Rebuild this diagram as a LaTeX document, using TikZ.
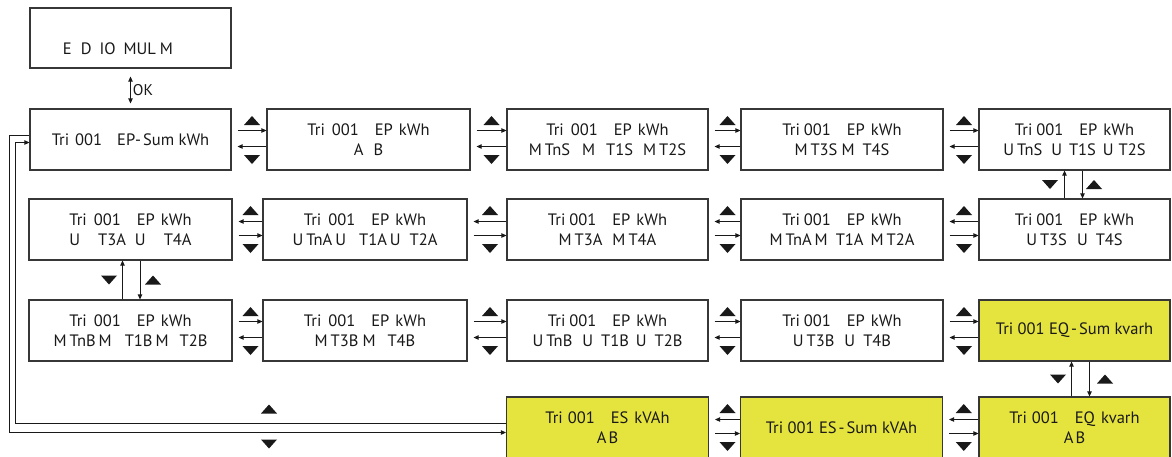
\documentclass[tikz,border=0pt]{standalone}
\usepackage{fontspec}
\setmainfont{PT Sans}
\usetikzlibrary{arrows.meta,calc}
\definecolor{lcdyellow}{RGB}{229,227,62}
\definecolor{edgegray}{RGB}{55,55,55}
\definecolor{ink}{RGB}{25,25,25}
\newcommand{\hsp}[1]{\hspace{#1pt}}
\newcommand{\triEP}{Tri\hsp{7}001\hsp{16}EP\hsp{6}kWh}
\newcommand{\hconnR}[2]{%
  \draw[arr] ([xshift=6pt,yshift=9pt]#1.east) -- ([yshift=9pt]#2.west);
  \draw[arr] ([yshift=-7pt]#2.west) -- ([xshift=6pt,yshift=-7pt]#1.east);
  \pic at ($(#1.east)!0.5!(#2.west)+(3,-19)$) {tup};
  \pic at ($(#1.east)!0.5!(#2.west)+(3,20)$) {tdown};}
\newcommand{\hconnL}[2]{%
  \draw[arr] ([yshift=8pt]#2.west) -- ([xshift=6pt,yshift=8pt]#1.east);
  \draw[arr] ([xshift=6pt,yshift=-6pt]#1.east) -- ([yshift=-6pt]#2.west);
  \pic at ($(#1.east)!0.5!(#2.west)+(3,-19)$) {tup};
  \pic at ($(#1.east)!0.5!(#2.west)+(3,19)$) {tdown};}
% top box, bottom box, up-arrow dx, down-arrow dx, down-triangle dx, up-triangle dx
\newcommand{\vconn}[6]{%
  \draw[arr] ([xshift=#3pt]#2.north) -- ([xshift=#3pt]#1.south);
  \draw[arr] ([xshift=#4pt]#1.south) -- ([xshift=#4pt]#2.north);
  \pic at ($(#1.south)!0.5!(#2.north)+(#5,0)$) {tdown};
  \pic at ($(#1.south)!0.5!(#2.north)+(#6,0)$) {tup};}
\begin{document}
\begin{tikzpicture}[x=1pt,y=-1pt,
  lcd/.style={draw=edgegray, line width=1.2pt, minimum height=61pt, inner sep=0pt,
    align=center, font=\fontsize{16.5}{20.5}\selectfont, text=ink},
  hot/.style={fill=lcdyellow},
  txt/.style={inner sep=0pt, font=\fontsize{16.5}{20}\selectfont, text=ink},
  arr/.style={-{Triangle[length=5pt,width=4.5pt]}, line width=0.9pt, draw=ink},
  tup/.pic={\fill[ink] (-8,4.5) -- (8,4.5) -- (0,-4.5) -- cycle;},
  tdown/.pic={\fill[ink] (-8,-4.5) -- (8,-4.5) -- (0,4.5) -- cycle;}]
\fill[white] (0,0) rectangle (1172,456);
\useasboundingbox (0,0) rectangle (1172,456);

% top box
\node[lcd, minimum width=201pt, minimum height=60pt] (b0) at (130.5,38) {};
\node[txt] (b0t) at (118,49) {E\hsp{9}D\hsp{8}IO\hsp{8}MUL\hsp{4}M};

% row 1
\node[lcd, minimum width=201pt] (b11) at (130.5,139.5) {Tri\hsp{6}001\hsp{15}EP-\hsp{2}Sum kWh};
\node[lcd, minimum width=203pt] (b12) at (368.5,139.5) {\triEP\\A\hsp{10}B};
\node[lcd, minimum width=201pt] (b13) at (607.5,139.5) {\triEP\\M\hsp{3}TnS\hsp{12}M\hsp{11}T1S\hsp{10}M\hsp{3}T2S};
\node[lcd, minimum width=202pt] (b14) at (842,139.5) {Tri\hsp{4}001\hsp{16}EP\hsp{6}kWh\\M\hsp{3}T3S\hsp{4}M\hsp{8}T4S};
\node[lcd, minimum width=191pt] (b15) at (1074.5,139.5) {Tri\hsp{4}001\hsp{16}EP\hsp{6}kWh\\U\hsp{3}TnS\hsp{9}U\hsp{7}T1S\hsp{7}U\hsp{5}T2S};

% row 2
\node[lcd, minimum width=203pt] (b21) at (130.5,229.5) {\triEP\\U\hsp{18}T3A\hsp{9}U\hsp{18}T4A};
\node[lcd, minimum width=204pt] (b22) at (365,229.5) {\triEP\\U\hsp{3}TnA\hsp{3}U\hsp{13}T1A\hsp{3}U\hsp{9}T2A};
\node[lcd, minimum width=201pt] (b23) at (607.5,229.5) {Tri\hsp{4}001\hsp{16}EP\hsp{6}kWh\\M\hsp{3}T3A\hsp{10}M\hsp{3}T4A};
\node[lcd, minimum width=202pt] (b24) at (842,229.5) {Tri\hsp{4}001\hsp{16}EP\hsp{6}kWh\\M\hsp{3}TnA\hsp{3}M\hsp{8}T1A\hsp{7}M\hsp{3}T2A};
\node[lcd, minimum width=191pt] (b25) at (1074.5,229.5) {Tri\hsp{4}001\hsp{16}EP\hsp{6}kWh\\U\hsp{3}T3S\hsp{10}U\hsp{8}T4S};

% row 3
\node[lcd, minimum width=203pt] (b31) at (130.5,330.5) {\triEP\\M\hsp{3}TnB\hsp{3}M\hsp{13}T1B\hsp{3}M\hsp{11}T2B};
\node[lcd, minimum width=204pt] (b32) at (365,330.5) {\triEP\\M\hsp{3}T3B\hsp{4}M\hsp{12}T4B};
\node[lcd, minimum width=201pt] (b33) at (607.5,330.5) {Tri\hsp{4}001\hsp{16}EP\hsp{6}kWh\\U\hsp{3}TnB\hsp{10}U\hsp{8}T1B\hsp{7}U\hsp{8}T2B};
\node[lcd, minimum width=202pt] (b34) at (842,330.5) {Tri\hsp{4}001\hsp{16}EP\hsp{6}kWh\\U\hsp{3}T3B\hsp{10}U\hsp{8}T4B};
\node[lcd, hot, minimum width=191pt] (b35) at (1074.5,330.5) {Tri 001 EQ\hsp{2}-\hsp{2}Sum kvarh};

% row 4
\node[lcd, hot, minimum width=202pt] (b43) at (607.5,427.5) {Tri\hsp{5}001\hsp{16}ES\hsp{6}kVAh\\A\hsp{2}B};
\node[lcd, hot, minimum width=202pt] (b44) at (841.5,427.5) {Tri 001 ES\hsp{2}-\hsp{2}Sum kVAh};
\node[lcd, hot, minimum width=191pt] (b45) at (1074.5,427.5) {Tri\hsp{5}001\hsp{16}EQ\hsp{6}kvarh\\A\hsp{2}B};

% OK connector
\draw[{Triangle[length=5pt,width=4.5pt]}-{Triangle[length=5pt,width=4.5pt]}, line width=0.9pt, draw=ink]
  ([yshift=-8pt]b0.south) -- ([yshift=5pt]b11.north)
  node[midway, right=2pt, txt, font=\fontsize{15.5}{16}\selectfont] (oklbl) {OK};

% horizontal connectors
\hconnR{b11}{b12}\hconnR{b12}{b13}\hconnR{b13}{b14}\hconnR{b14}{b15}
\hconnL{b21}{b22}\hconnL{b22}{b23}\hconnL{b23}{b24}\hconnL{b24}{b25}
\hconnR{b31}{b32}\hconnR{b32}{b33}\hconnR{b33}{b34}\hconnR{b34}{b35}
\hconnL{b43}{b44}\hconnL{b44}{b45}

% vertical connectors
\vconn{b15}{b25}{-10}{8}{-24.5}{19.5}
\vconn{b21}{b31}{-8}{9.5}{-21.5}{22.5}
\vconn{b35}{b45}{-3}{15}{-16.5}{30.5}

% loop lines between first and ES display
\draw[arr] ([yshift=4pt]b11.west) -- ++(-20.4,0) |- ([yshift=-5pt]b43.west);
\draw[arr] ([yshift=4pt]b43.west) -| ([xshift=-13.5pt,yshift=-3pt]b11.west) -- ([yshift=-3pt]b11.west);
\pic at (269,409) {tup};
\pic at (269,444) {tdown};
\end{tikzpicture}
\end{document}
